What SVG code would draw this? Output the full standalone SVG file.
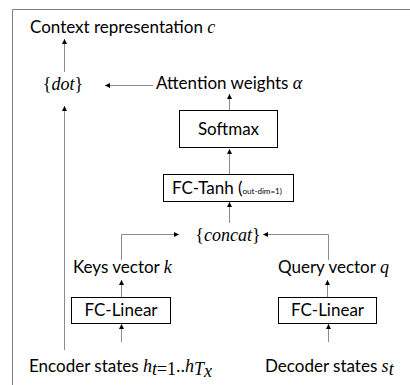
<svg xmlns="http://www.w3.org/2000/svg" width="410" height="385" viewBox="0 0 410 385">
<defs>
<marker id="ah" markerWidth="6" markerHeight="6" refX="5" refY="3" orient="auto" markerUnits="userSpaceOnUse">
<path d="M0,0.5 L5,3 L0,5.5 Z" fill="#000"/>
</marker>
<style>
.t{font-family:Lato,"Open Sans","Liberation Sans",Arial,sans-serif;font-size:17px;fill:#000}
.m{font-family:"Liberation Serif","Times New Roman",serif;font-style:italic;font-size:18px;fill:#000}
.mu{font-family:"Liberation Serif","Times New Roman",serif;font-size:18px;fill:#000}
.box{fill:#fff;stroke:#000;stroke-width:1}
.c{fill:none;stroke:#8c8c8c;stroke-width:1;marker-end:url(#ah)}
</style>
</defs>
<rect width="410" height="385" fill="#fff"/>
<path d="M12.5,385 V9.5 H410" fill="none" stroke="#7f7f7f" stroke-width="1"/>

<g id="connectors">
<line class="c" x1="64.5" y1="72" x2="64.5" y2="39"/>
<line class="c" x1="153" y1="85.5" x2="105" y2="85.5"/>
<line class="c" x1="229.5" y1="110" x2="229.5" y2="94"/>
<line class="c" x1="64.5" y1="350" x2="64.5" y2="106"/>
<line class="c" x1="229.5" y1="174" x2="229.5" y2="149"/>
<line class="c" x1="229.5" y1="223" x2="229.5" y2="202"/>
<polyline class="c" points="121.5,260 121.5,234.5 179,234.5"/>
<polyline class="c" points="328.5,260 328.5,234.5 263,234.5"/>
<line class="c" x1="121.5" y1="297" x2="121.5" y2="280"/>
<line class="c" x1="327.5" y1="297" x2="327.5" y2="280"/>
<line class="c" x1="121.5" y1="342" x2="121.5" y2="324"/>
<line class="c" x1="328.5" y1="342" x2="328.5" y2="324"/>
</g>

<g id="context">
<text class="t" x="30" y="33">Context representation <tspan class="m">c</tspan></text>
</g>
<g id="dot">
<text x="63" y="90" text-anchor="middle"><tspan class="mu">{</tspan><tspan class="m">dot</tspan><tspan class="mu">}</tspan></text>
</g>
<g id="attention">
<text class="t" x="156" y="89">Attention weights <tspan class="m">α</tspan></text>
</g>
<g id="softmax">
<rect class="box" x="179.5" y="110.5" width="98" height="37"/>
<text class="t" x="228.5" y="135" text-anchor="middle">Softmax</text>
</g>
<g id="fctanh">
<rect class="box" x="163.5" y="174.5" width="130" height="27"/>
<text class="t" x="172" y="194">FC-Tanh (<tspan font-size="8">out-dim=1)</tspan></text>
</g>
<g id="concat">
<text x="228" y="241" text-anchor="middle"><tspan class="mu">{</tspan><tspan class="m">concat</tspan><tspan class="mu">}</tspan></text>
</g>
<g id="keys">
<text class="t" x="73" y="273">Keys vector <tspan class="m">k</tspan></text>
</g>
<g id="query">
<text class="t" x="278" y="273">Query vector <tspan class="m">q</tspan></text>
</g>
<g id="fclinear-left">
<rect class="box" x="71.5" y="297.5" width="99" height="26"/>
<text class="t" x="121" y="316" text-anchor="middle">FC-Linear</text>
</g>
<g id="fclinear-right">
<rect class="box" x="278.5" y="297.5" width="98" height="26"/>
<text class="t" x="327.5" y="316" text-anchor="middle">FC-Linear</text>
</g>
<g id="encoder">
<text class="t" x="29" y="372">Encoder states <tspan class="m">h</tspan><tspan class="m" font-size="12" dy="3">t</tspan><tspan class="mu" font-size="12">=1</tspan><tspan class="mu" dy="-3">..</tspan><tspan class="m">h</tspan><tspan class="m" font-size="12" dy="3">T</tspan><tspan class="m" font-size="9" dy="2">x</tspan></text>
</g>
<g id="decoder">
<text class="t" x="265" y="372">Decoder states <tspan class="m">s</tspan><tspan class="m" font-size="12" dy="3">t</tspan></text>
</g>
</svg>
